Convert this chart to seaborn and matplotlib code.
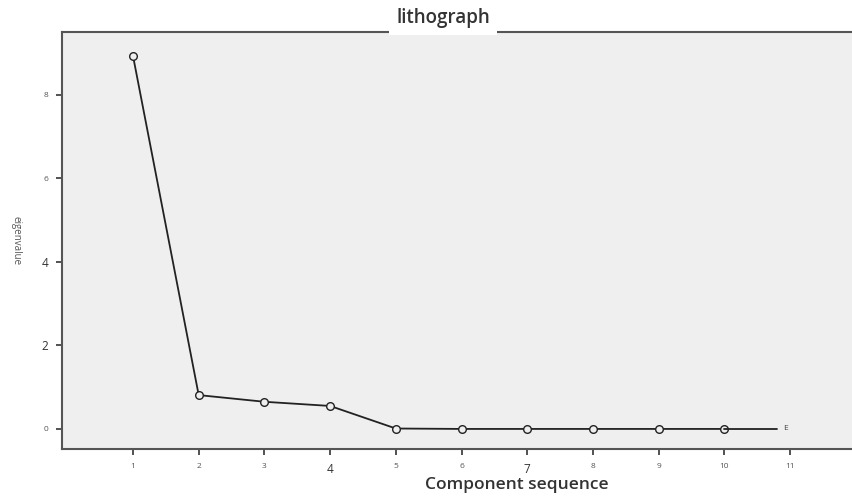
import matplotlib
matplotlib.use("Agg")
import matplotlib.pyplot as plt
import seaborn as sns

# Dữ liệu scree plot
components = [1, 2, 3, 4, 5, 6, 7, 8, 9, 10]
eigenvalues = [8.93, 0.81, 0.65, 0.55, 0.01, 0.0, 0.0, 0.0, 0.0, 0.0]
tail_x = [10, 10.8]
tail_y = [0.0, 0.0]
x_ticks = [1, 2, 3, 4, 5, 6, 7, 8, 9, 10, 11]
y_ticks = [0, 2, 4, 6, 8]
big_x_ticks = [4, 7]
big_y_ticks = [2, 4]

sns.set_style("white")
plt.rcParams['font.family'] = ['Open Sans', 'DejaVu Sans']

bg = '#efefef'
fig = plt.figure(figsize=(8.53, 4.97), dpi=100)
# trục kéo dài ra ngoài mép phải của hình (như ảnh gốc)
ax = fig.add_axes([0.0727, 0.0966, 1.067, 0.839])
ax.set_facecolor(bg)

# đường chính với marker tròn rỗng
sns.lineplot(x=components, y=eigenvalues, ax=ax, color='#222222', linewidth=1.3,
             marker='o', markersize=5.5, markerfacecolor=bg,
             markeredgecolor='#222222', markeredgewidth=1.0)
ax.plot(tail_x, tail_y, color='#222222', linewidth=1.3)
ax.text(tail_x[1] + 0.1, tail_y[1], 'E', fontsize=6, color='#444444',
        va='center', ha='left')

ax.set_xlim(-0.08, 13.77)
ax.set_ylim(-0.48, 9.5)
ax.set_xticks(x_ticks)
ax.set_yticks(y_ticks)
ax.set_xticklabels([str(v) for v in x_ticks])
ax.set_yticklabels([str(v) for v in y_ticks])
for lab, v in zip(ax.get_xticklabels(), x_ticks):
    lab.set_fontsize(8.5 if v in big_x_ticks else 6)
    lab.set_color('#333333' if v in big_x_ticks else '#555555')
for lab, v in zip(ax.get_yticklabels(), y_ticks):
    lab.set_fontsize(8.5 if v in big_y_ticks else 6)
    lab.set_color('#333333' if v in big_y_ticks else '#555555')

ax.tick_params(axis='both', direction='out', length=4, width=1.2,
               color='#333333', pad=6, bottom=True, left=True)

for side in ['left', 'bottom', 'top']:
    ax.spines[side].set_color('#555555')
    ax.spines[side].set_linewidth(1.5)
ax.spines['right'].set_visible(False)

ax.set_xlabel('Component sequence', fontsize=12.5, fontweight='semibold',
              color='#333333', va='center')
ax.xaxis.set_label_coords(0.5, -0.087)
ax.set_ylabel('eigenvalue', fontsize=7, color='#555555', rotation=270,
              labelpad=18, va='center')

# tiêu đề đè lên viền trên
fig.text(443 / 853, 1 - 18 / 497, 'lithograph', fontsize=13.5, fontweight='semibold',
         color='#333333', ha='center', va='center',
         bbox=dict(facecolor='white', edgecolor='none', pad=5))

fig.savefig('out.png', dpi=100)
